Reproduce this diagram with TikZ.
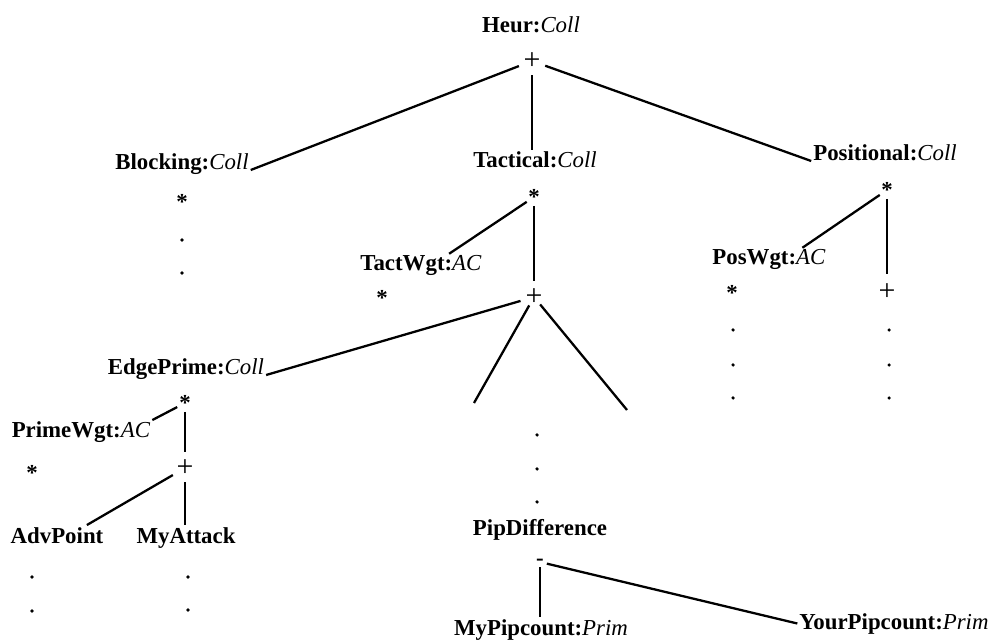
\documentclass[tikz,border=0pt]{standalone}
\usepackage{fontspec}
\setmainfont{Liberation Serif}

\begin{document}
\begin{tikzpicture}[x=0.02cm, y=-0.02cm,
    lbl/.style={anchor=base, inner sep=1pt, font=\fontsize{13}{15}\selectfont},
    opr/.style={inner sep=0.5pt, font=\fontsize{13}{15}\selectfont\bfseries},
    plusop/.style={inner sep=0.5pt, font=\fontsize{17}{19}\selectfont},
    br/.style={line width=1.3pt},
    fromstar/.style={br, shorten <=5pt},
    fromplus/.style={br, shorten <=8pt},
    dotn/.style={circle, fill, inner sep=0pt, minimum size=2pt}]

    \useasboundingbox (0,0) rectangle (994,641);

    % root
    \node[lbl] (heur) at (531,33) {\textbf{Heur:}\textit{Coll}};
    \node[plusop] (heurop) at (532,61) {+};
    \node[lbl] (blk) at (182,170) {\textbf{Blocking:}\textit{Coll}};
    \node[lbl] (tac) at (535,168) {\textbf{Tactical:}\textit{Coll}};
    \node[lbl] (pos) at (885,161) {\textbf{Positional:}\textit{Coll}};
    \draw[fromplus] (heurop.center) -- (blk.base east);
    \draw[fromplus] (heurop.center) -- (heurop.center |- tac.north);
    \draw[fromplus] (heurop.center) -- (pos.base west);

    % blocking
    \node[opr] (blkst) at (182,202) {*};

    % tactical
    \node[opr] (tacst) at (534,197) {*};
    \node[lbl] (tw) at (421,271) {\textbf{TactWgt:}\textit{AC}};
    \node[opr] (twst) at (382,298) {*};
    \node[plusop] (tacop) at (534,297) {+};
    \draw[fromstar] (tacst.center) -- ([xshift=16pt]tw.north);
    \draw[fromstar, shorten >=9pt] (tacst.center) -- (tacop.center);
    \coordinate (vleft) at (474,403);
    \coordinate (vright) at (627,410);
    \draw[br, shorten <=5.5pt] (tacop.center) -- (vleft);
    \draw[br, shorten <=5.5pt] (tacop.center) -- (vright);

    % edge prime
    \node[lbl] (eg) at (186,375) {\textbf{EdgePrime:}\textit{Coll}};
    \draw[fromplus] (tacop.center) -- (eg.base east);
    \node[opr] (egst) at (185,403) {*};
    \node[lbl] (pwg) at (81,438) {\textbf{PrimeWgt:}\textit{AC}};
    \node[opr] (pwgst) at (32,473) {*};
    \node[plusop] (egop) at (185,468) {+};
    \node[lbl] (adv) at (57,543) {\textbf{AdvPoint}};
    \node[lbl] (mya) at (186,543) {\textbf{MyAttack}};
    \draw[fromstar] (egst.center) -- (pwg.north east);
    \draw[fromstar, shorten >=9pt] (egst.center) -- (egop.center);
    \draw[fromplus] (egop.center) -- ([xshift=17pt]adv.north);
    \draw[fromplus] (egop.center) -- (egop.center |- mya.north);

    % pip difference
    \node[lbl] (pd) at (540,536) {\textbf{PipDifference}};
    \node[opr] (pdop) at (540,562) {-};
    \node[lbl] (mpc) at (541,635) {\textbf{MyPipcount:}\textit{Prim}};
    \node[lbl] (ypc) at (894,629) {\textbf{YourPipcount:}\textit{Prim}};
    \draw[br, shorten <=3pt] (pdop.center) -- (pdop.center |- mpc.north);
    \draw[br, shorten <=4pt] (pdop.center) -- (ypc.west);

    % positional
    \node[opr] (posst) at (887,190) {*};
    \node[lbl] (pw) at (769,265) {\textbf{PosWgt:}\textit{AC}};
    \node[opr] (pwst) at (732,293) {*};
    \node[plusop] (posop) at (887,292) {+};
    \draw[fromstar] (posst.center) -- ([xshift=19pt]pw.north);
    \draw[fromstar, shorten >=10pt] (posst.center) -- (posop.center);

    % elided levels
    \foreach \dx/\dy [count=\i] in {182/240, 182/273, 537/435, 537/469, 537/502,
        733/330, 733/365, 733/398, 889/330, 889/365, 889/398,
        32/577, 32/611, 188/577, 188/610}
        \node[dotn] (dot\i) at (\dx,\dy) {};
\end{tikzpicture}
\end{document}
